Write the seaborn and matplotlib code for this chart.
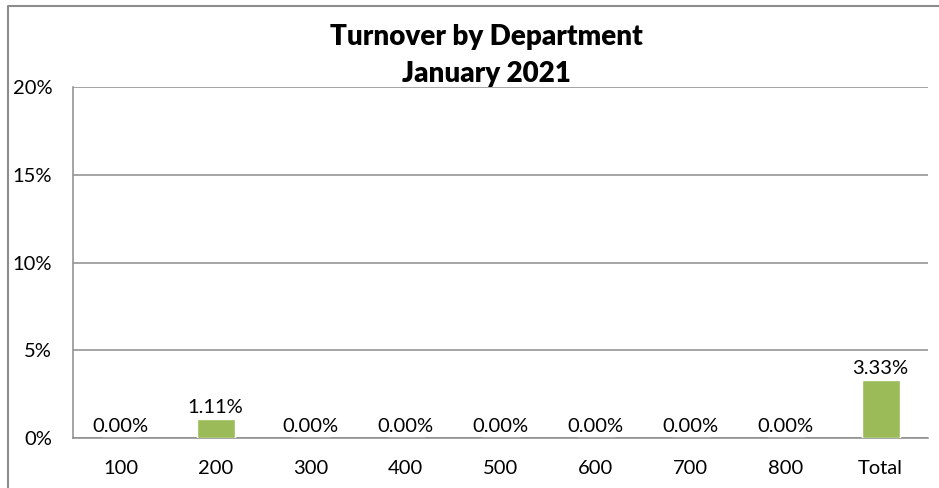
import matplotlib
matplotlib.use("Agg")
import matplotlib.pyplot as plt
from matplotlib.ticker import PercentFormatter, MultipleLocator
from matplotlib.lines import Line2D
import pandas as pd
import seaborn as sns

departments = ["100", "200", "300", "400", "500", "600", "700", "800", "Total"]
turnover = [0.0, 0.0111, 0.0, 0.0, 0.0, 0.0, 0.0, 0.0, 0.0333]
title_lines = ["Turnover by Department", "January 2021"]

df = pd.DataFrame({"department": departments, "turnover": turnover})

sns.set_style("white")
plt.rcParams["font.family"] = ["Lato", "DejaVu Sans"]
plt.rcParams["text.color"] = "black"
plt.rcParams["xtick.color"] = "black"
plt.rcParams["ytick.color"] = "black"

grey = "#8c8c8c"
W, H = 939, 488
fig = plt.figure(figsize=(W / 100, H / 100), dpi=100)
ax = fig.add_axes([73 / W, 1 - 438 / H, (928 - 73) / W, (438 - 87) / H])

sns.barplot(data=df, x="department", y="turnover", color="#9BBB59",
            width=0.4, saturation=1, ax=ax, zorder=3)

ax.set_ylim(0, 0.2)
ax.yaxis.set_major_locator(MultipleLocator(0.05))
ax.yaxis.set_major_formatter(PercentFormatter(1.0, decimals=0))
ax.grid(axis="y", color=grey, linewidth=1.1, zorder=0)
ax.set_axisbelow(True)
ax.set_xlabel("")
ax.set_ylabel("")

for side in ["top", "right"]:
    ax.spines[side].set_visible(False)
for side in ["left", "bottom"]:
    ax.spines[side].set_color(grey)
    ax.spines[side].set_linewidth(1.1)

ax.tick_params(axis="y", length=0, pad=15, labelsize=14.5, labelcolor="black")
ax.tick_params(axis="x", length=0, pad=16, labelsize=14.5, labelcolor="black")
for lbl in ax.get_yticklabels():
    lbl.set_horizontalalignment("right")

ax.bar_label(ax.containers[0], labels=[f"{v * 100:.2f}%" for v in turnover],
             padding=2, fontsize=14.5, color="black")

fig.text(486 / W, 1 - 37 / H, title_lines[0], ha="center", va="center",
         fontsize=20, fontweight="heavy", color="black")
fig.text(486 / W, 1 - 74 / H, title_lines[1], ha="center", va="center",
         fontsize=20, fontweight="heavy", color="black")

# chart area border (Excel style)
fig.add_artist(Line2D([8 / W, 8 / W, 1], [0, 1 - 6 / H, 1 - 6 / H],
                      transform=fig.transFigure, color=grey, linewidth=1.5))

fig.savefig("out.png", dpi=100)
